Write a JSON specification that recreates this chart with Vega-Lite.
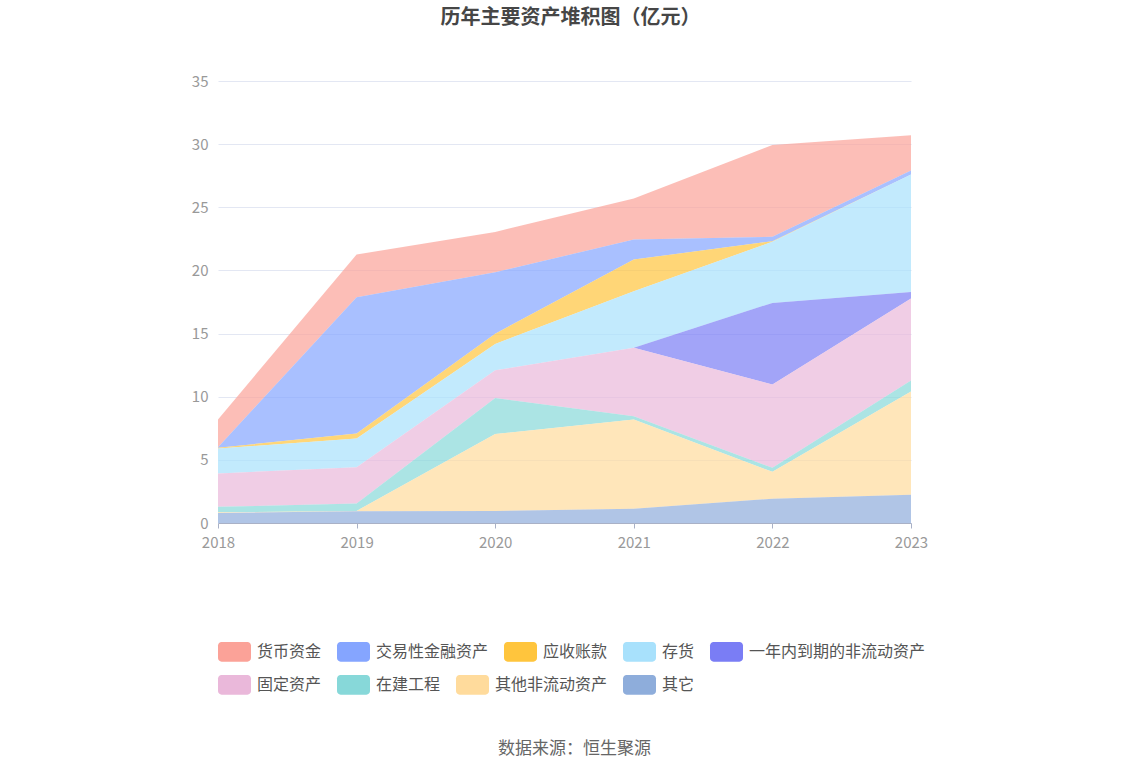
{
  "$schema": "https://vega.github.io/schema/vega-lite/v6.json",
  "width": 693,
  "height": 442,
  "autosize": {"type": "none"},
  "padding": {"left": 218, "top": 81, "right": 237, "bottom": 253},
  "background": "white",
  "title": {
    "text": "历年主要资产堆积图（亿元）",
    "font": "Noto Sans CJK SC",
    "fontSize": 20,
    "fontWeight": "bold",
    "color": "#464646",
    "anchor": "middle",
    "offset": 46,
    "dx": 6
  },
  "data": {
    "values": [
      {"year": "2018", "type": "货币资金", "value": 2.2},
      {"year": "2018", "type": "交易性金融资产", "value": 0.05},
      {"year": "2018", "type": "应收账款", "value": 0.05},
      {"year": "2018", "type": "存货", "value": 1.98},
      {"year": "2018", "type": "一年内到期的非流动资产", "value": 0},
      {"year": "2018", "type": "固定资产", "value": 2.64},
      {"year": "2018", "type": "在建工程", "value": 0.43},
      {"year": "2018", "type": "其他非流动资产", "value": 0.05},
      {"year": "2018", "type": "其它", "value": 0.8},
      {"year": "2019", "type": "货币资金", "value": 3.38},
      {"year": "2019", "type": "交易性金融资产", "value": 10.79},
      {"year": "2019", "type": "应收账款", "value": 0.4},
      {"year": "2019", "type": "存货", "value": 2.27},
      {"year": "2019", "type": "一年内到期的非流动资产", "value": 0},
      {"year": "2019", "type": "固定资产", "value": 2.88},
      {"year": "2019", "type": "在建工程", "value": 0.58},
      {"year": "2019", "type": "其他非流动资产", "value": 0.02},
      {"year": "2019", "type": "其它", "value": 0.94},
      {"year": "2020", "type": "货币资金", "value": 3.2},
      {"year": "2020", "type": "交易性金融资产", "value": 4.86},
      {"year": "2020", "type": "应收账款", "value": 0.81},
      {"year": "2020", "type": "存货", "value": 2.09},
      {"year": "2020", "type": "一年内到期的非流动资产", "value": 0},
      {"year": "2020", "type": "固定资产", "value": 2.19},
      {"year": "2020", "type": "在建工程", "value": 2.85},
      {"year": "2020", "type": "其他非流动资产", "value": 6.1},
      {"year": "2020", "type": "其它", "value": 0.95},
      {"year": "2021", "type": "货币资金", "value": 3.24},
      {"year": "2021", "type": "交易性金融资产", "value": 1.59},
      {"year": "2021", "type": "应收账款", "value": 2.51},
      {"year": "2021", "type": "存货", "value": 4.48},
      {"year": "2021", "type": "一年内到期的非流动资产", "value": 0},
      {"year": "2021", "type": "固定资产", "value": 5.41},
      {"year": "2021", "type": "在建工程", "value": 0.27},
      {"year": "2021", "type": "其他非流动资产", "value": 7.07},
      {"year": "2021", "type": "其它", "value": 1.12},
      {"year": "2022", "type": "货币资金", "value": 7.27},
      {"year": "2022", "type": "交易性金融资产", "value": 0.35},
      {"year": "2022", "type": "应收账款", "value": 0.05},
      {"year": "2022", "type": "存货", "value": 4.84},
      {"year": "2022", "type": "一年内到期的非流动资产", "value": 6.46},
      {"year": "2022", "type": "固定资产", "value": 6.6},
      {"year": "2022", "type": "在建工程", "value": 0.32},
      {"year": "2022", "type": "其他非流动资产", "value": 2.13},
      {"year": "2022", "type": "其它", "value": 1.92},
      {"year": "2023", "type": "货币资金", "value": 2.79},
      {"year": "2023", "type": "交易性金融资产", "value": 0.32},
      {"year": "2023", "type": "应收账款", "value": 0},
      {"year": "2023", "type": "存货", "value": 9.29},
      {"year": "2023", "type": "一年内到期的非流动资产", "value": 0.52},
      {"year": "2023", "type": "固定资产", "value": 6.5},
      {"year": "2023", "type": "在建工程", "value": 0.87},
      {"year": "2023", "type": "其他非流动资产", "value": 8.18},
      {"year": "2023", "type": "其它", "value": 2.23}
    ]
  },
  "transform": [
    {"calculate": "indexof(['其它', '其他非流动资产', '在建工程', '固定资产', '一年内到期的非流动资产', '存货', '应收账款', '交易性金融资产', '货币资金'], datum.type)", "as": "stackOrder"},
    {"stack": "value", "groupby": ["year"], "sort": [{"field": "stackOrder", "order": "ascending"}], "as": ["v0", "v1"]}
  ],
  "encoding": {
    "x": {
      "field": "year",
      "type": "ordinal",
      "scale": {"type": "point", "padding": 0},
      "axis": {
        "labelAngle": 0,
        "labelFont": "Noto Sans CJK SC",
        "labelFontSize": 15,
        "labelColor": "#999999",
        "labelPadding": 7,
        "domainColor": "#A9B1C6",
        "tickColor": "#A9B1C6",
        "tickSize": 5,
        "grid": false,
        "title": "数据来源：恒生聚源",
        "titleFont": "Noto Sans CJK SC",
        "titleFontSize": 17,
        "titleFontWeight": "normal",
        "titleColor": "#666666",
        "titlePadding": 190,
        "titleX": 356
      }
    },
    "y": {
      "field": "v0",
      "type": "quantitative",
      "scale": {"domain": [0, 35]},
      "axis": {
        "values": [0, 5, 10, 15, 20, 25, 30, 35],
        "labelFont": "Noto Sans CJK SC",
        "labelFontSize": 15,
        "labelColor": "#999999",
        "labelPadding": 10,
        "domain": false,
        "ticks": false,
        "gridColor": "#E3E7F3",
        "title": null
      }
    },
    "y2": {"field": "v1"}
  },
  "layer": [
    {
      "transform": [{"filter": "datum.stackOrder >= 4"}],
      "mark": {"type": "area", "opacity": 0.7, "interpolate": "linear"},
      "encoding": {
        "color": {
          "field": "type",
          "type": "nominal",
          "scale": {
            "domain": ["货币资金", "交易性金融资产", "应收账款", "存货", "一年内到期的非流动资产"],
            "range": ["#FBA298", "#85A5FF", "#FFC53D", "#A8E1FC", "#7A7DF5"]
          },
          "legend": {
            "title": null,
            "orient": "none",
            "legendX": 0,
            "legendY": 554,
            "direction": "horizontal",
            "columns": 5,
            "columnPadding": 15,
            "symbolType": "M-0.78,-0.6H0.78A0.22,0.22 0 0 1 1,-0.38V0.38A0.22,0.22 0 0 1 0.78,0.6H-0.78A0.22,0.22 0 0 1 -1,0.38V-0.38A0.22,0.22 0 0 1 -0.78,-0.6Z",
            "symbolSize": 1089,
            "symbolOpacity": 1,
            "symbolStrokeWidth": 0,
            "labelFont": "Noto Sans CJK SC",
            "labelFontSize": 16,
            "labelColor": "#555555",
            "labelOffset": 6,
            "labelLimit": 300
          }
        }
      }
    },
    {
      "transform": [{"filter": "datum.stackOrder < 4"}],
      "mark": {"type": "area", "opacity": 0.7, "interpolate": "linear"},
      "encoding": {
        "color": {
          "field": "type",
          "type": "nominal",
          "scale": {
            "domain": ["固定资产", "在建工程", "其他非流动资产", "其它"],
            "range": ["#EAB8DA", "#87D8D9", "#FFDB9C", "#8EADDB"]
          },
          "legend": {
            "title": null,
            "orient": "none",
            "legendX": 0,
            "legendY": 587,
            "direction": "horizontal",
            "columns": 4,
            "columnPadding": 15,
            "symbolType": "M-0.78,-0.6H0.78A0.22,0.22 0 0 1 1,-0.38V0.38A0.22,0.22 0 0 1 0.78,0.6H-0.78A0.22,0.22 0 0 1 -1,0.38V-0.38A0.22,0.22 0 0 1 -0.78,-0.6Z",
            "symbolSize": 1089,
            "symbolOpacity": 1,
            "symbolStrokeWidth": 0,
            "labelFont": "Noto Sans CJK SC",
            "labelFontSize": 16,
            "labelColor": "#555555",
            "labelOffset": 6,
            "labelLimit": 300
          }
        }
      }
    }
  ],
  "resolve": {"scale": {"color": "independent"}, "legend": {"color": "independent"}},
  "config": {
    "view": {"stroke": null}
  }
}
